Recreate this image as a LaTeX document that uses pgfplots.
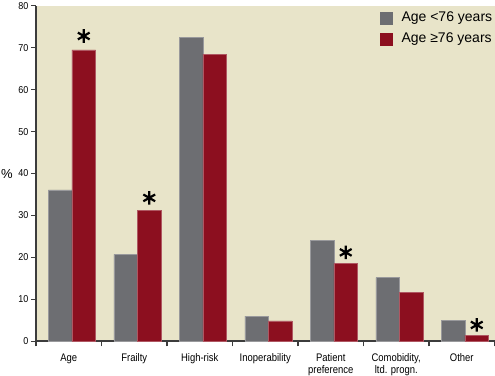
\documentclass[border=0pt]{standalone}
\usepackage{pgfplots}
\pgfplotsset{compat=1.18}
\usepackage{fontspec}
\setmainfont{Liberation Sans}
\newfontfamily\condfont[FakeStretch=0.86]{Liberation Sans}
\newfontfamily\ycondfont[FakeStretch=0.9]{Liberation Sans}
\usetikzlibrary{calc}
\definecolor{bgbeige}{HTML}{E8E4C9}
\definecolor{bargray}{HTML}{6D6E72}
\definecolor{barred}{HTML}{8C0F1F}
\definecolor{axisdark}{HTML}{3C3C3C}
\begin{document}
\begin{tikzpicture}
\begin{axis}[
  name=ax,
  scale only axis,
  width=458.5bp, height=335.5bp,
  xmin=-0.5, xmax=6.5, ymin=0, ymax=80,
  axis background/.style={fill=bgbeige},
  axis x line*=bottom, axis y line*=left,
  axis line style={-, line width=1.6bp, draw=axisdark},
  tick align=outside,
  major tick length=5bp,
  tick style={line width=1.1bp, draw=axisdark},
  xtick={-0.5,0.5,...,6.5},
  xticklabels={Age, Frailty, High-risk, Inoperability, {Patient\\preference}, {Comobidity,\\ltd. progn.}, Other, {}},
  xticklabel style={xshift=32.75bp, align=center, anchor=north, inner sep=0pt, yshift=-7.5bp,
    font=\condfont\fontsize{11bp}{11.8bp}\selectfont},
  ytick={0,10,...,80},
  yticklabel style={font=\ycondfont\fontsize{10bp}{11bp}\selectfont, inner sep=0pt, xshift=-2.5bp},
  /pgf/number format/assume math mode=true,
  ylabel={\%},
  every axis y label/.style={at={(rel axis cs:0,0.5)}, anchor=center, xshift=-29bp,
    font=\fontsize{13bp}{14bp}\selectfont},
  legend style={draw=none, fill=none, inner sep=0pt, outer sep=0pt,
    at={(0.7503,0.982)}, anchor=north west,
    nodes={inner sep=0pt, text height=10bp, text depth=3bp},
    row sep=8bp, column sep=9.5bp,
    font=\fontsize{14bp}{16bp}\selectfont},
  legend cell align=left,
]
\addplot[ybar, bar width=0.359, bar shift=-0.13, fill=bargray, draw=bargray!70!white, line width=0.5bp,
  legend image code/.code={\fill[bargray] (0bp,-5.75bp) rectangle (11.5bp,5.75bp);}]
  coordinates {(0,36.1) (1,20.7) (2,72.4) (3,6.0) (4,24.0) (5,15.2) (6,5.0)};
\addlegendentry{Age <76 years}
\addplot[ybar, bar width=0.359, bar shift=0.229, fill=barred, draw=barred!70!white, line width=0.5bp,
  legend image code/.code={\fill[barred] (0bp,-5.75bp) rectangle (11.5bp,5.75bp);}]
  coordinates {(0,69.5) (1,31.3) (2,68.5) (3,4.9) (4,18.5) (5,11.7) (6,1.4)};
\addlegendentry{Age ≥76 years}
\addplot[only marks, mark=asterisk, mark size=6.8bp, line width=2.2bp, black, forget plot]
  coordinates {(0.229,72.8) (1.229,34.2) (4.229,21.2) (6.229,3.9)};
\end{axis}
\pgfresetboundingbox
\path[use as bounding box] ($(ax.south west)+(-36bp,-34.7bp)$) rectangle ($(ax.north east)+(0.5bp,5.8bp)$);
\end{tikzpicture}
\end{document}
